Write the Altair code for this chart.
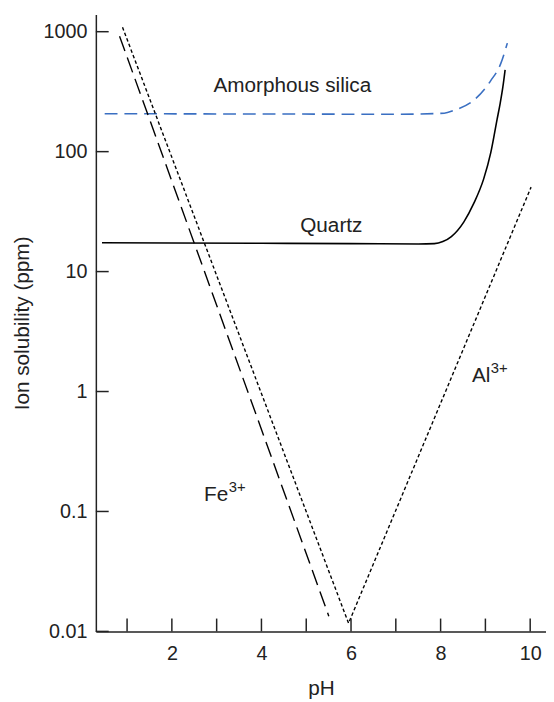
import altair as alt
import pandas as pd

# ---- data ----
quartz_ph = [0.44, 2.0, 4.0, 6.0, 7.5, 7.86, 8.05, 8.24, 8.52, 8.74, 8.96, 9.12, 9.26, 9.33, 9.39, 9.44]
quartz_ppm = [17.4, 17.3, 17.2, 17.1, 17.0, 17.1, 17.8, 19.6, 26.0, 37.0, 59.0, 98.0, 185.0, 253.0, 346.0, 481.0]

silica_ph = [0.50, 4.0, 7.0, 8.08, 8.30, 8.74, 9.12, 9.34, 9.49]
silica_ppm = [207.0, 206.0, 205.0, 209.0, 221.0, 268.0, 391.0, 539.0, 803.0]

fe_ph = [0.832, 5.504]
fe_ppm = [918.0, 0.0134]

al_ph = [0.898, 5.945, 10.02]
al_ppm = [1089.0, 0.0117, 50.6]

x_label_values = [2, 4, 6, 8, 10]
x_tick_values = [1, 2, 3, 4, 5, 6, 7, 8, 9, 10]
y_tick_values = [0.01, 0.1, 1, 10, 100, 1000]

label_text = ["Amorphous silica", "Quartz"]
label_ph = [4.69, 5.56]
label_ppm = [312.0, 21.2]

ion_text = ["Fe", "Al"]
ion_ph = [2.72, 8.70]
ion_ppm = [0.1227, 1.21]
ion_sup = ["3+", "3+"]

FONT = "Liberation Sans"
INK = "#222222"
W, H = 456, 625

x_scale = alt.Scale(domain=[0.303, 10.353], nice=False, zero=False)
y_scale = alt.Scale(type="log", domain=[0.01, 1393], nice=False)

x_axis = alt.Axis(values=x_label_values, ticks=False, grid=False, domainColor=INK, domainWidth=1.5,
                  labelFontSize=20, labelColor=INK, labelPadding=12, labelFont=FONT,
                  title="pH", titleFontSize=21, titleFontWeight="normal", titleColor=INK, titleFont=FONT,
                  titleX=W / 2, titleY=64, titleAlign="center", titleBaseline="alphabetic")
y_axis = alt.Axis(values=y_tick_values, format="~g", ticks=False, grid=False, domainColor=INK, domainWidth=1.5,
                  labelFontSize=20, labelColor=INK, labelPadding=9, labelFont=FONT,
                  title="Ion solubility (ppm)", titleFontSize=21, titleFontWeight="normal", titleColor=INK,
                  titleFont=FONT, titleX=-68, titleY=H / 2, titleAngle=270, titleAlign="center",
                  titleBaseline="alphabetic")

X = alt.X("ph:Q", scale=x_scale, axis=x_axis)
Y = alt.Y("ppm:Q", scale=y_scale, axis=y_axis)

quartz = pd.DataFrame({"ph": quartz_ph, "ppm": quartz_ppm})
silica = pd.DataFrame({"ph": silica_ph, "ppm": silica_ppm})
fe = pd.DataFrame({"ph": fe_ph, "ppm": fe_ppm})
al = pd.DataFrame({"ph": al_ph, "ppm": al_ppm})
xt = pd.DataFrame({"ph": x_tick_values})
yt = pd.DataFrame({"ppm": y_tick_values})
lab = pd.DataFrame({"ph": label_ph, "ppm": label_ppm, "t": label_text})
ion = pd.DataFrame({"ph": ion_ph, "ppm": ion_ppm, "t": ion_text, "s": ion_sup})

l_quartz = alt.Chart(quartz).mark_line(color="black", strokeWidth=1.6, interpolate="monotone").encode(x=X, y=Y)
l_silica = alt.Chart(silica).mark_line(color="#3a6fc2", strokeWidth=1.6, strokeDash=[13, 7],
                                       interpolate="monotone").encode(x=X, y=Y)
l_fe = alt.Chart(fe).mark_line(color="black", strokeWidth=1.4, strokeDash=[16, 7]).encode(x=X, y=Y)
l_al = alt.Chart(al).mark_line(color="black", strokeWidth=1.4, strokeDash=[3.5, 2.5]).encode(x=X, y=Y)

x_ticks = alt.Chart(xt).mark_rule(color=INK, strokeWidth=1.5).encode(
    x=X, y=alt.value(H), y2=alt.value(H - 13))
y_ticks = alt.Chart(yt).mark_rule(color=INK, strokeWidth=1.5).encode(
    y=Y, x=alt.value(0), x2=alt.value(13))

t_lab = alt.Chart(lab).mark_text(font=FONT, fontSize=21, color=INK, align="center",
                                 baseline="alphabetic").encode(x=X, y=Y, text="t:N")
t_ion = alt.Chart(ion).mark_text(font=FONT, fontSize=21, color=INK, align="left",
                                 baseline="alphabetic").encode(x=X, y=Y, text="t:N")
t_sup_fe = alt.Chart(ion.iloc[[0]]).mark_text(font=FONT, fontSize=15, color=INK, align="left",
                                              baseline="alphabetic", dx=25, dy=-9).encode(x=X, y=Y, text="s:N")
t_sup_al = alt.Chart(ion.iloc[[1]]).mark_text(font=FONT, fontSize=15, color=INK, align="left",
                                              baseline="alphabetic", dx=19, dy=-9).encode(x=X, y=Y, text="s:N")

chart = alt.layer(l_quartz, l_silica, l_fe, l_al, x_ticks, y_ticks, t_lab, t_ion, t_sup_fe, t_sup_al).properties(
    width=W, height=H,
    padding={"left": 89, "top": 2, "right": 0, "bottom": 67},
    autosize=alt.AutoSizeParams(type="none"),
).configure_view(stroke=None)

chart.save("out.html", embed_options={"renderer": "svg", "actions": False})
